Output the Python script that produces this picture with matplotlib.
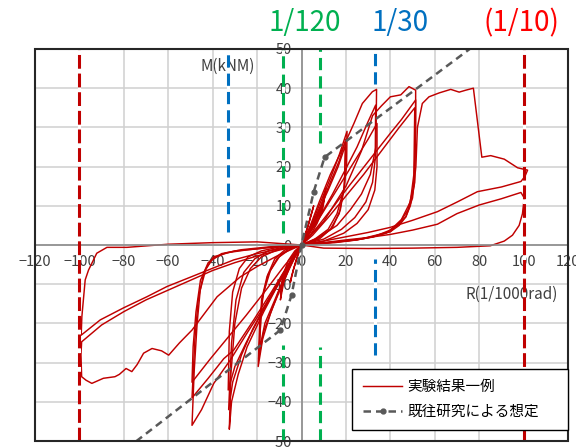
import matplotlib
matplotlib.use("Agg")
import matplotlib.pyplot as plt
from matplotlib.patches import Rectangle

plt.rcParams['font.family'] = ['Noto Sans CJK JP', 'DejaVu Sans']

# ---- axis ticks ----
x_ticks = list(range(-120, 121, 20))
y_ticks = list(range(-50, 51, 10))

# ---- measured hysteresis loops: R (1/1000 rad), M (kNm) ----
cyc01_r = [0, 1.5, 3, 4.5, 5.5, 4, 2, 0, -1.5, -3, -4.5, -5, -3.5, -1.5, 0]
cyc01_m = [0, 2.5, 5, 8, 10, 7, 3, 0.5, -2, -5, -8, -9.5, -6, -2.5, 0]

cyc02_r = [0, 3, 6, 9, 11, 10, 7, 4, 0, -3, -6, -8.5, -9.5, -8, -5, -2, 0]
cyc02_m = [0, 2.5, 6, 10, 14.5, 11, 7, 3.5, 0.5, -2, -5, -9, -14, -9.5, -5, -1.5, 0]

cyc03_r = [0, 4, 7, 9.5, 10.5, 9, 6, 3, 0, -3, -6, -8.5, -9.5, -7.5, -4.5, -1.5, 0]
cyc03_m = [0, 2.5, 5.5, 9, 12.5, 9, 5.5, 2.5, 0, -1.5, -4, -8, -12.5, -8, -4, -1, 0]

cyc04_r = [0, 6, 12, 16, 19, 20.3, 20.5, 17, 13, 9, 5, 2, 0, -5, -10, -14, -17, -18.8, -19.5,
           -17.5, -14, -10, -6, -2.5, 0]
cyc04_m = [0, 1.5, 4, 8, 14, 20, 29, 23, 17, 11.5, 6, 2, 0, -1, -3, -6.5, -12, -19, -31,
           -24, -17.5, -11.5, -6.5, -2.5, 0]

cyc05_r = [0, 7, 13, 17, 19.3, 20, 17, 13, 9, 5, 2, 0, -6, -11, -15, -17.8, -19.3,
           -17, -13, -9, -5, -2, 0]
cyc05_m = [0, 1.5, 4, 8, 15, 27, 21.5, 16, 10.5, 5.5, 2, 0, -1, -3.5, -7.5, -14, -29,
           -22, -16, -10.5, -5.5, -2, 0]

cyc06_r = [0, 8, 14, 17.5, 19.3, 19.8, 16.5, 12, 8, 4, 0, -7, -12, -15.5, -18, -19,
           -16.5, -12, -8, -4, 0]
cyc06_m = [0, 1.5, 4.5, 9, 15, 25.5, 20, 14, 9, 4, 0, -1, -3.5, -8, -14, -27,
           -20, -14, -8.5, -4, 0]

cyc07_r = [0, 8, 16, 22, 27, 31, 33.5, 33.8, 31.9, 27.4, 23.6, 18, 13, 8, 4, 0,
           -6, -12, -18, -23, -27, -30, -31.8, -32.5, -31.5, -28.5, -24.5, -17, -9.5, -4, 0]
cyc07_m = [0, 2, 5, 9, 13, 18, 25, 39.7, 39.1, 36.1, 31, 24, 18, 11, 5, 0,
           -0.5, -1.5, -3, -6, -11, -20, -33, -47, -40, -33, -26, -17, -9, -3.5, 0]

cyc08_r = [0, 10, 18, 24, 29, 32, 33.2, 33.4, 30, 25, 20, 14, 8, 3, 0,
           -8, -15, -21, -26, -29.5, -31.5, -32.8, -31, -27, -22, -15, -8, -3, 0]
cyc08_m = [0, 1.5, 4, 7, 11, 16, 22, 35.7, 31.5, 25, 19.5, 13, 7, 2.5, 0,
           -0.5, -1.5, -3.5, -7, -14, -25, -42, -35, -28, -21.5, -14, -7, -2.5, 0]

cyc09_r = [0, 10, 19, 25, 30, 33, 34, 34, 30, 24, 18, 12, 6, 0,
           -10, -18, -24, -28, -31, -32.5, -33, -30, -25, -19, -12, -6, 0]
cyc09_m = [0, 1, 3, 5.5, 9, 14, 20, 31, 27, 21.5, 16, 10.5, 5, 0,
           -0.5, -1.5, -3, -6, -12, -22, -37, -31, -25, -18.5, -11.5, -5.5, 0]

cyc10_r = [0, 10, 20, 27, 32, 36, 40, 44.7, 48.4, 51.4, 51.4, 51, 49, 47, 44, 40, 33, 25, 15, 5, 0,
           -10, -20, -30, -39.6, -43, -45.6, -47, -48.3, -49.3, -45, -39.5, -32, -24, -16, -9.5, -4, 0]
cyc10_m = [0, 6, 15, 24, 33, 35.5, 37.8, 38.3, 40.4, 39.5, 30, 16, 10, 7.2, 5, 3.4, 2.2, 1.3, 0.6, 0.2, 0,
           -0.3, -1, -1.5, -3, -6, -11.5, -20, -32, -46, -42, -35.3, -29.3, -22, -15, -9, -4, 0]

cyc11_r = [0, 15, 28, 38, 44, 48, 50.5, 51.2, 51.4, 45, 40, 31, 22, 14, 7, 0,
           -12, -24, -34, -40, -44, -46.5, -48, -49.3, -42, -35, -30.5, -21.5, -13, -6, 0]
cyc11_m = [0, 0.8, 1.6, 3, 5.5, 9, 15, 25, 37, 32, 28.5, 22, 15.5, 9.5, 4.5, 0,
           -0.5, -1.2, -2, -3.5, -7, -14, -24, -39, -34, -29, -26.8, -19.1, -11.5, -5, 0]

cyc12_r = [0, 20, 32, 40, 45, 49, 50.6, 51, 44, 36, 28, 20, 12, 5, 0,
           -15, -27, -36, -42, -45.5, -47.5, -48.8, -49.3, -41, -33, -25, -16, -8, 0]
cyc12_m = [0, 1, 2, 3.8, 6.5, 11, 18, 35, 30, 24, 18, 12.5, 7, 2.5, 0,
           -0.5, -1.2, -2.2, -4.5, -9, -17, -26, -35, -29, -23.5, -18, -11.5, -5.5, 0]

cyc13_r = [0, 12, 25, 40, 47, 50, 51.5, 52.2, 54.4, 57.4, 62, 67.2, 71, 74, 77.4, 81.2, 85.2,
           91.3, 97.3, 99.5, 101.8, 100.6, 98.8, 90, 79.2, 70.2, 61.2, 50, 40, 30, 20, 10, 0,
           -10, -20, -27.5, -38, -49.3, -55, -59.8, -63, -67.3, -71.1, -74, -76.4, -79, -82,
           -84, -89.2, -94.4, -97, -99, -99.3, -99, -90, -80, -70, -60, -50, -40, -30, -20, -10, 0]
cyc13_m = [0, 0.6, 1.3, 3.4, 7.2, 12, 20, 30, 36.1, 37.8, 38.8, 39.7, 39, 39.5, 40, 22.4, 22.8,
           21.9, 19.7, 19.4, 19.1, 17.5, 16.2, 14.8, 13.6, 11, 8.5, 6.3, 4.5, 3.2, 2.1, 1, 0,
           -2.5, -5.5, -8.1, -13.2, -21.7, -25, -28.1, -27, -26.4, -27.6, -30.5, -32.3, -31.5, -33,
           -33.6, -34, -35.3, -34.5, -33.6, -28, -24.7, -20.4, -17, -14, -11.5, -9, -6.5, -4.5, -2.8, -1.3, 0]

cyc14_r = [0, 10, 30, 50, 70, 85, 91.3, 95, 98, 99.5, 100.3, 98.8, 90, 80, 70, 61.2, 50, 40, 30, 20, 10, 0,
           -20, -40, -60, -78.6, -87.6, -92.2, -95.9, -97.4, -98.9, -99.2, -90.6, -80, -69.6, -60.6,
           -50, -38.1, -30.5, -20, -10, 0]
cyc14_m = [0, -0.8, -0.9, -0.8, -0.6, -0.2, 1, 2.5, 5, 8, 12, 13.4, 11.8, 10.2, 8, 5.3, 3.8, 2.7, 1.9, 1.3, 0.6, 0,
           0.8, 0.6, 0.2, -0.6, -0.6, -2.1, -6.4, -8.9, -18.3, -23, -19.1, -16, -13.2, -10.6,
           -8.2, -5.5, -3.8, -2.2, -1, 0]

test_loops = [
    (cyc01_r, cyc01_m), (cyc02_r, cyc02_m), (cyc03_r, cyc03_m),
    (cyc04_r, cyc04_m), (cyc05_r, cyc05_m), (cyc06_r, cyc06_m),
    (cyc07_r, cyc07_m), (cyc08_r, cyc08_m), (cyc09_r, cyc09_m),
    (cyc10_r, cyc10_m), (cyc11_r, cyc11_m), (cyc12_r, cyc12_m),
    (cyc13_r, cyc13_m), (cyc14_r, cyc14_m),
]

# ---- skeleton curve assumed from previous studies ----
skel_r = [-80, -9.5, -4.5, 0, 5.5, 10.4, 80]
skel_m = [-52.5, -21.7, -12.8, 0, 13.6, 22.4, 51.8]

# ---- drift-angle reference lines: (R, M_from, M_to) ----
drift_red = [(-100, -50, 50), (100, -50, 50)]
drift_blue = [(-33.3, 3.3, 50), (33.3, 41, 50), (33.3, -28, -3.5)]
drift_green = [(-8.33, 3, 50), (-8.33, -50, -25.5), (8.33, 26, 50), (8.33, -50, -26)]

legend_labels = ["実験結果一例", "既往研究による想定"]

fig = plt.figure(figsize=(5.76, 4.48), dpi=100)
ax = fig.add_axes([35 / 576, 1 - 441 / 448, 533 / 576, 392 / 448])
ax.set_xlim(-120, 120)
ax.set_ylim(-50, 50)
ax.set_xticks(x_ticks)
ax.set_yticks(y_ticks)
ax.set_axisbelow(True)
ax.grid(True, color="#D0D0D0", lw=1.1)

for side in ("top", "right"):
    ax.spines[side].set_visible(False)
ax.spines["left"].set_position(("data", 0))
ax.spines["bottom"].set_position(("data", 0))
for side in ("left", "bottom"):
    ax.spines[side].set_color("#8C8C8C")
    ax.spines[side].set_linewidth(1.2)
ax.tick_params(length=0, labelsize=10.5, labelcolor="#404040")
ax.tick_params(axis="x", pad=7)
ax.tick_params(axis="y", pad=7)

ax.add_patch(Rectangle((0, 0), 1, 1, transform=ax.transAxes, fill=False,
                       edgecolor="#262626", lw=1.5, clip_on=False, zorder=6))

# hysteresis loops
for i, (r, m) in enumerate(test_loops):
    ax.plot(r, m, color="#C00000", lw=1.05, zorder=2,
            label=legend_labels[0] if i == 0 else None)

# skeleton curve
ax.plot(skel_r, skel_m, color="#595959", lw=1.8, ls=(0, (3, 2)), marker="o",
        markersize=3.5, zorder=3, label=legend_labels[1])

# reference drift lines
for lines, col, dash in ((drift_red, "#C00000", (4.5, 1.6)),
                         (drift_blue, "#0070C0", (4.0, 2.0)),
                         (drift_green, "#00B050", (4.0, 2.0))):
    for x0, y0, y1 in lines:
        ax.plot([x0, x0], [y0, y1], color=col, lw=2.2, ls=(0, dash),
                gapcolor="white", zorder=4, solid_capstyle="butt", dash_capstyle="butt")

# axis titles
ax.text(-45.6, 45.7, "M(kNM)", fontsize=11, color="#404040", ha="left", va="center", zorder=1)
ax.text(74, -12.5, "R(1/1000rad)", fontsize=11, color="#404040", ha="left", va="center", zorder=1)

# drift labels above the plot
fig.text(305 / 576, 1 - 23 / 448, "1/120", fontsize=20, color="#00B050", ha="center", va="center")
fig.text(400 / 576, 1 - 23 / 448, "1/30", fontsize=20, color="#0070C0", ha="center", va="center")
fig.text(521 / 576, 1 - 23 / 448, "(1/10)", fontsize=20, color="#FF0000", ha="center", va="center")

leg = ax.legend(loc="upper left", bbox_to_anchor=(0.595, 0.0434, 0.4053, 0.1403),
                mode="expand", borderaxespad=0,
                fontsize=10.5, frameon=True, fancybox=False, framealpha=1,
                edgecolor="black", handlelength=2.7, handletextpad=0.35,
                borderpad=0.75, labelspacing=0.75)
leg.get_frame().set_linewidth(1.0)
leg.set_zorder(7)

fig.savefig("out.png", dpi=100)
